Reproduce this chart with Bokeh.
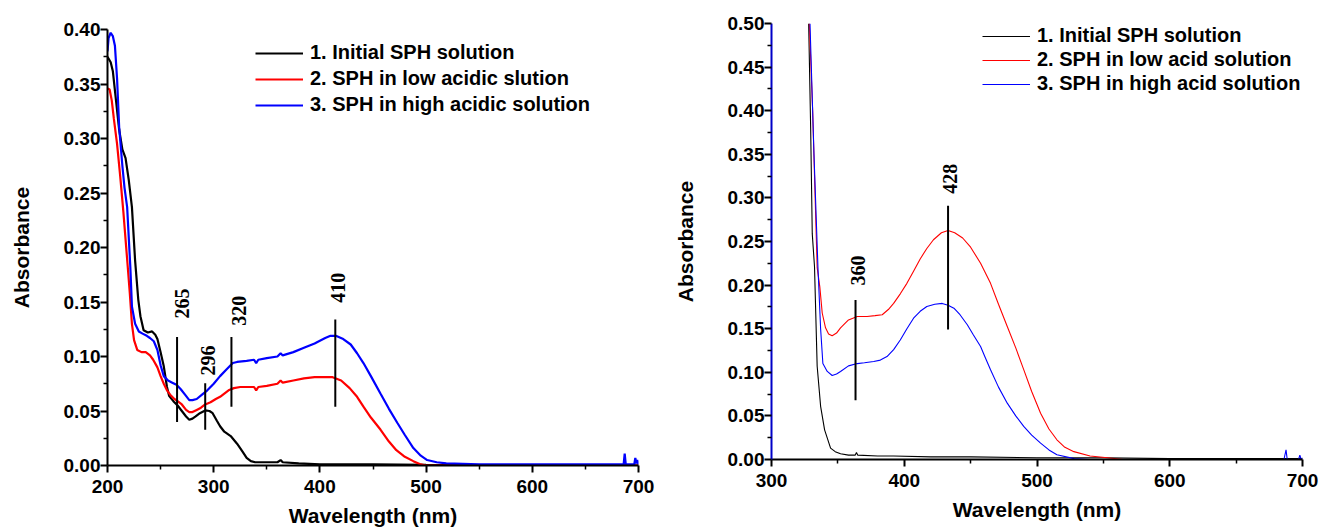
from bokeh.plotting import figure
from bokeh.layouts import row, column
from bokeh.models import FixedTicker, NumeralTickFormatter, Range1d, Legend, LegendItem
from bokeh.core.properties import value
from bokeh.embed import file_html
from bokeh.resources import INLINE
import math

# ---------------- Left panel data ----------------
l_black_x = [200, 203, 205, 208, 211, 214, 217, 220, 223, 226, 229, 231, 234, 238, 242, 245, 247, 250, 253,
             256, 258, 262, 266, 270, 274, 277, 280, 283, 287, 292, 296, 299, 303, 306, 310, 316, 322, 327,
             331, 335, 339, 350, 360, 363, 365, 380, 400, 450, 500, 700]
l_black_y = [0.375, 0.370, 0.362, 0.335, 0.308, 0.290, 0.282, 0.262, 0.237, 0.188, 0.152, 0.137, 0.124, 0.122,
             0.123, 0.120, 0.116, 0.104, 0.091, 0.072, 0.064, 0.059, 0.055, 0.050, 0.045, 0.042, 0.043, 0.045,
             0.048, 0.0505, 0.050, 0.048, 0.041, 0.036, 0.031, 0.027, 0.020, 0.013, 0.007, 0.004, 0.003, 0.003,
             0.003, 0.005, 0.003, 0.002, 0.001, 0.001, 0.0005, 0.0]

l_red_x = [200, 202, 204, 206, 209, 212, 215, 219, 221, 223, 225, 228, 232, 236, 240, 243, 247, 250, 253, 256,
           259, 263, 266, 270, 274, 277, 280, 284, 288, 292, 297, 302, 306, 310, 314, 319, 325, 331, 338, 340,
           342, 350, 360, 363, 365, 375, 385, 395, 405, 412, 420, 428, 435, 441, 448, 457, 465, 472, 480, 488,
           495, 500, 700]
l_red_y = [0.346, 0.345, 0.335, 0.318, 0.295, 0.265, 0.232, 0.183, 0.158, 0.130, 0.115, 0.106, 0.104, 0.104,
           0.101, 0.097, 0.090, 0.082, 0.075, 0.069, 0.065, 0.061, 0.059, 0.056, 0.051, 0.049, 0.049, 0.051,
           0.053, 0.056, 0.058, 0.061, 0.063, 0.066, 0.069, 0.071, 0.072, 0.072, 0.072, 0.069, 0.072, 0.073,
           0.075, 0.078, 0.076, 0.078, 0.080, 0.081, 0.081, 0.081, 0.078, 0.071, 0.063, 0.054, 0.044, 0.033,
           0.022, 0.014, 0.008, 0.004, 0.001, 0.0, 0.0]

l_blue_x = [200, 201, 203, 205, 207, 209, 211, 214, 216, 218.5, 221.5, 223, 226, 229.5, 233, 237, 240, 243.6,
            247, 250, 253, 257, 261, 265, 269, 273, 277, 280, 284, 289, 294, 300, 306, 312, 318, 322, 331, 338,
            340, 342, 350, 360, 363, 365, 375, 385, 395, 405, 410, 415, 422, 429, 435, 441, 448, 457, 465, 473,
            480, 488, 495, 501, 510, 519, 550, 650, 686, 687, 688, 696, 697, 698, 699, 700]
l_blue_y = [0.380, 0.392, 0.397, 0.394, 0.385, 0.355, 0.310, 0.275, 0.255, 0.237, 0.182, 0.146, 0.130, 0.123,
            0.121, 0.119, 0.117, 0.114, 0.106, 0.092, 0.082, 0.078, 0.076, 0.074, 0.070, 0.065, 0.060, 0.060,
            0.061, 0.065, 0.069, 0.075, 0.082, 0.088, 0.094, 0.095, 0.096, 0.097, 0.094, 0.097, 0.0985, 0.100,
            0.103, 0.101, 0.104, 0.108, 0.112, 0.117, 0.119, 0.119, 0.116, 0.111, 0.103, 0.094, 0.082, 0.066,
            0.052, 0.039, 0.028, 0.016, 0.009, 0.005, 0.003, 0.002, 0.001, 0.001, 0.001, 0.011, 0.001, 0.001,
            0.007, 0.002, 0.005, 0.001]

l_labels = ["1. Initial SPH solution", "2. SPH in low acidic slution", "3. SPH in high acidic solution"]

l_peak_text = ["265", "296", "320", "410"]
l_peak_line_x = [265.5, 292, 316.7, 414.5]
l_peak_line_y0 = [0.040, 0.0327, 0.054, 0.054]
l_peak_line_y1 = [0.118, 0.0755, 0.118, 0.134]
l_peak_text_x = [270.6, 295.1, 323.4, 416.6]
l_peak_text_y = [0.1486, 0.0963, 0.142, 0.163]

l_yticks = [0.0, 0.05, 0.10, 0.15, 0.20, 0.25, 0.30, 0.35, 0.40]
l_yminor = [0.025, 0.075, 0.125, 0.175, 0.225, 0.275, 0.325, 0.375]
l_xticks = [200, 300, 400, 500, 600, 700]
l_xminor = [250, 350, 450, 550, 650]

# ---------------- Right panel data ----------------
r_black_x = [328, 329.5, 330.7, 332.4, 334.4, 337, 340, 344.5, 348, 352, 358, 363, 364, 365, 380, 392, 420,
             450, 500, 550, 600, 650, 700]
r_black_y = [0.50, 0.38, 0.259, 0.221, 0.107, 0.061, 0.034, 0.013, 0.009, 0.0065, 0.005, 0.005, 0.008, 0.005,
             0.004, 0.004, 0.003, 0.003, 0.002, 0.002, 0.001, 0.001, 0.001]

r_red_x = [328.5, 331, 334.4, 336.4, 338.2, 340.7, 343, 345.7, 349, 352, 358, 364.6, 372, 378, 383.4, 388, 392,
           397, 402, 407, 412, 417, 422, 428, 433, 438, 444, 450, 457.5, 465, 471, 477.6, 484, 490, 496, 502.7,
           509, 515, 521, 527.8, 540, 553, 565, 700]
r_red_y = [0.50, 0.40, 0.22, 0.198, 0.168, 0.151, 0.144, 0.142, 0.145, 0.151, 0.160, 0.164, 0.164, 0.165, 0.166,
           0.172, 0.179, 0.190, 0.202, 0.216, 0.230, 0.242, 0.252, 0.260, 0.2626, 0.260, 0.254, 0.2435, 0.225,
           0.202, 0.178, 0.1525, 0.128, 0.103, 0.078, 0.053, 0.035, 0.0226, 0.014, 0.009, 0.004, 0.002, 0.0, 0.0]

r_blue_x = [329, 332, 335, 337, 338.7, 342, 345.7, 349, 352, 358, 364.6, 370, 377, 382, 387, 392, 397, 402, 407,
            412, 417, 423, 428.6, 433, 437.4, 442, 447.5, 452, 457.5, 461, 465, 471, 477.6, 484, 490, 496, 502.7,
            509, 515, 528, 540, 686, 687.6, 688.5, 697, 698, 699, 700]
r_blue_y = [0.50, 0.35, 0.22, 0.15, 0.110, 0.101, 0.0963, 0.098, 0.101, 0.1074, 0.110, 0.111, 0.1124, 0.114,
            0.118, 0.126, 0.137, 0.150, 0.162, 0.170, 0.1755, 0.178, 0.179, 0.177, 0.1735, 0.166, 0.1545, 0.143,
            0.1296, 0.117, 0.103, 0.083, 0.0646, 0.050, 0.038, 0.028, 0.0187, 0.011, 0.0054, 0.001, 0.0, 0.0,
            0.011, 0.0, 0.0, 0.005, 0.0, 0.002]

r_labels = ["1. Initial SPH solution", "2. SPH in low acid solution", "3. SPH in high acid solution"]

r_peak_text = ["360", "428"]
r_peak_line_x = [363.3, 433]
r_peak_line_y0 = [0.068, 0.149]
r_peak_line_y1 = [0.183, 0.291]
r_peak_text_x = [364.8, 434.1]
r_peak_text_y = [0.2167, 0.322]

r_yticks = [0.0, 0.05, 0.10, 0.15, 0.20, 0.25, 0.30, 0.35, 0.40, 0.45, 0.50]
r_yminor = [0.025, 0.075, 0.125, 0.175, 0.225, 0.275, 0.325, 0.375, 0.425, 0.475]
r_xticks = [300, 400, 500, 600, 700]
r_xminor = [350, 450, 550, 650]

colors = ["black", "#ff0000", "#0000ff"]
SANS = "Liberation Sans"
SERIF = "Liberation Serif"


def style(p, yt, ym, xt, xm, spine_color="black"):
    p.xgrid.visible = False
    p.ygrid.visible = False
    p.outline_line_color = None
    p.background_fill_color = "white"
    p.border_fill_color = "white"
    p.yaxis.ticker = FixedTicker(ticks=yt, minor_ticks=ym)
    p.xaxis.ticker = FixedTicker(ticks=xt, minor_ticks=xm)
    p.yaxis.formatter = NumeralTickFormatter(format="0.00")
    for ax in (p.xaxis[0], p.yaxis[0]):
        ax.axis_line_width = 2
        ax.major_tick_line_width = 2
        ax.minor_tick_line_width = 1.5
        ax.major_tick_in = 0
        ax.minor_tick_in = 0
        ax.major_tick_out = 7
        ax.minor_tick_out = 4
        ax.major_label_text_font = SANS
        ax.major_label_text_font_style = "bold"
        ax.major_label_text_font_size = "19px"
        ax.major_label_text_color = "black"
        ax.axis_label_text_font = SANS
        ax.axis_label_text_font_style = "bold"
        ax.axis_label_text_font_size = "21px"
        ax.axis_label_text_color = "black"
    p.yaxis.major_label_standoff = 0
    p.yaxis.axis_label_standoff = 28
    p.xaxis.major_label_standoff = 7
    p.xaxis.axis_label_standoff = 8
    p.yaxis.axis_line_color = spine_color
    p.xaxis.axis_label = "Wavelength (nm)"
    p.yaxis.axis_label = "Absorbance"


def make_legend(items, loc, spacing):
    return Legend(items=items, location=loc, glyph_width=48, glyph_height=20, spacing=spacing,
                  padding=0, margin=0, label_standoff=7, border_line_color=None,
                  background_fill_alpha=0, label_text_color="black",
                  label_text_font=SANS, label_text_font_style="bold", label_text_font_size="20px")


# ---------------- Left figure ----------------
p1 = figure(frame_width=531, frame_height=436, output_backend="svg", toolbar_location=None,
            x_range=Range1d(200, 700), y_range=Range1d(0, 0.40),
            min_border_left=107, min_border_right=22, min_border_top=29, min_border_bottom=67)
style(p1, l_yticks, l_yminor, l_xticks, l_xminor)

r1 = []
for xs, ys, c in zip([l_black_x, l_red_x, l_blue_x], [l_black_y, l_red_y, l_blue_y], colors):
    r1.append(p1.line(xs, ys, line_color=c, line_width=2.2))

p1.segment(x0=l_peak_line_x, y0=l_peak_line_y0, x1=l_peak_line_x, y1=l_peak_line_y1,
           line_color="black", line_width=2)
p1.text(x=l_peak_text_x, y=l_peak_text_y, text=l_peak_text, angle=math.pi / 2,
        text_align="center", text_baseline="middle", text_font=value(SERIF),
        text_font_style="bold", text_font_size="20px", text_color="black")

p1.add_layout(make_legend([LegendItem(label=lab, renderers=[r]) for lab, r in zip(l_labels, r1)],
                          (148, 349), 3))

# ---------------- Right figure ----------------
p2 = figure(frame_width=531, frame_height=436, output_backend="svg", toolbar_location=None,
            x_range=Range1d(300, 700), y_range=Range1d(0, 0.50),
            min_border_left=111, min_border_right=18, min_border_top=23, min_border_bottom=73)
style(p2, r_yticks, r_yminor, r_xticks, r_xminor, spine_color="#0000c8")

r2 = []
for xs, ys, c in zip([r_black_x, r_red_x, r_blue_x], [r_black_y, r_red_y, r_blue_y], colors):
    r2.append(p2.line(xs, ys, line_color=c, line_width=1.1))

p2.segment(x0=r_peak_line_x, y0=r_peak_line_y0, x1=r_peak_line_x, y1=r_peak_line_y1,
           line_color="black", line_width=2)
p2.text(x=r_peak_text_x, y=r_peak_text_y, text=r_peak_text, angle=math.pi / 2,
        text_align="center", text_baseline="middle", text_font=value(SERIF),
        text_font_style="bold", text_font_size="20px", text_color="black")

p2.add_layout(make_legend([LegendItem(label=lab, renderers=[r]) for lab, r in zip(r_labels, r2)],
                          (211, 364), 1))

layout = row(column(p1), column(p2))
open("out.html", "w").write(file_html(layout, INLINE))
